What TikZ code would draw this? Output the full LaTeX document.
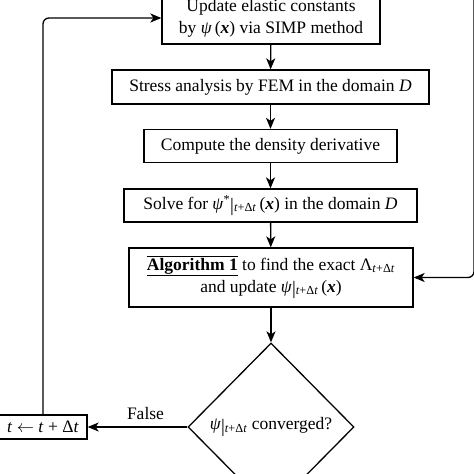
\documentclass[tikz,border=0pt]{standalone}
\usepackage{fontspec}
\setmainfont{Liberation Serif}
\usetikzlibrary{shapes.geometric,arrows.meta}
\newcommand{\mpsi}{\textit{ψ}}
\newcommand{\bvx}{\textbf{\textit{x}}}
\newcommand{\tdt}{\textsubscript{\textit{t}+Δ\textit{t}}}
\newcommand{\vbar}{\raisebox{-0.15em}{\fontsize{19}{19}\selectfont|}}
\begin{document}
\begin{tikzpicture}[x=1pt,y=-1pt, line width=1.3pt,
  font=\fontsize{17.5}{22}\selectfont,
  box/.style={draw, rectangle, inner sep=0pt, align=center},
  flow/.style={-{Stealth[length=11pt,width=9pt,inset=3pt]}}]
\useasboundingbox (0,0) rectangle (474,474);
\node[box, minimum width=218pt, minimum height=52pt] (upd) at (271,18)
  {Update elastic constants\\ by \mpsi\,(\bvx) via SIMP method};
\node[box, minimum width=317pt, minimum height=34pt] (fem) at (270.5,87)
  {Stress analysis by FEM in the domain \textit{D}};
\node[box, minimum width=253pt, minimum height=33pt] (der) at (270.5,146)
  {Compute the density derivative};
\node[box, minimum width=293pt, minimum height=33pt] (sol) at (270.5,205.5)
  {Solve for \mpsi\textsuperscript{*}\vbar\tdt\,(\bvx) in the domain \textit{D}};
\node[box, minimum width=284pt, minimum height=59pt] (alg) at (271,277.5)
  {$\overline{\underline{\hbox{\textbf{Algorithm 1}}}}$ to find the exact Λ\tdt\\ and update \mpsi\vbar\tdt\,(\bvx)};
\node[draw, diamond, inner sep=0pt, minimum width=166pt, minimum height=168pt] (dia) at (271,427)
  {\mpsi\vbar\tdt\ converged?};
\node[box, minimum width=88pt, minimum height=24pt] (tb) at (43,427)
  {\textit{t} $\leftarrow$ \textit{t} + Δ\textit{t}};
\coordinate (rtop) at (474,-20);
\draw[flow] (upd) -- (fem);
\draw[flow] (fem) -- (der);
\draw[flow] (der) -- (sol);
\draw[flow] (sol) -- (alg);
\draw[flow] (alg) -- (dia);
\draw[flow] (dia.west) -- node[above=3pt, pos=0.42] (flab) {False} (tb.east);
\draw[flow, rounded corners=6pt] (tb.north) |- (upd.west);
\draw[flow, rounded corners=6pt] (rtop) |- (alg.east);
\end{tikzpicture}
\end{document}
